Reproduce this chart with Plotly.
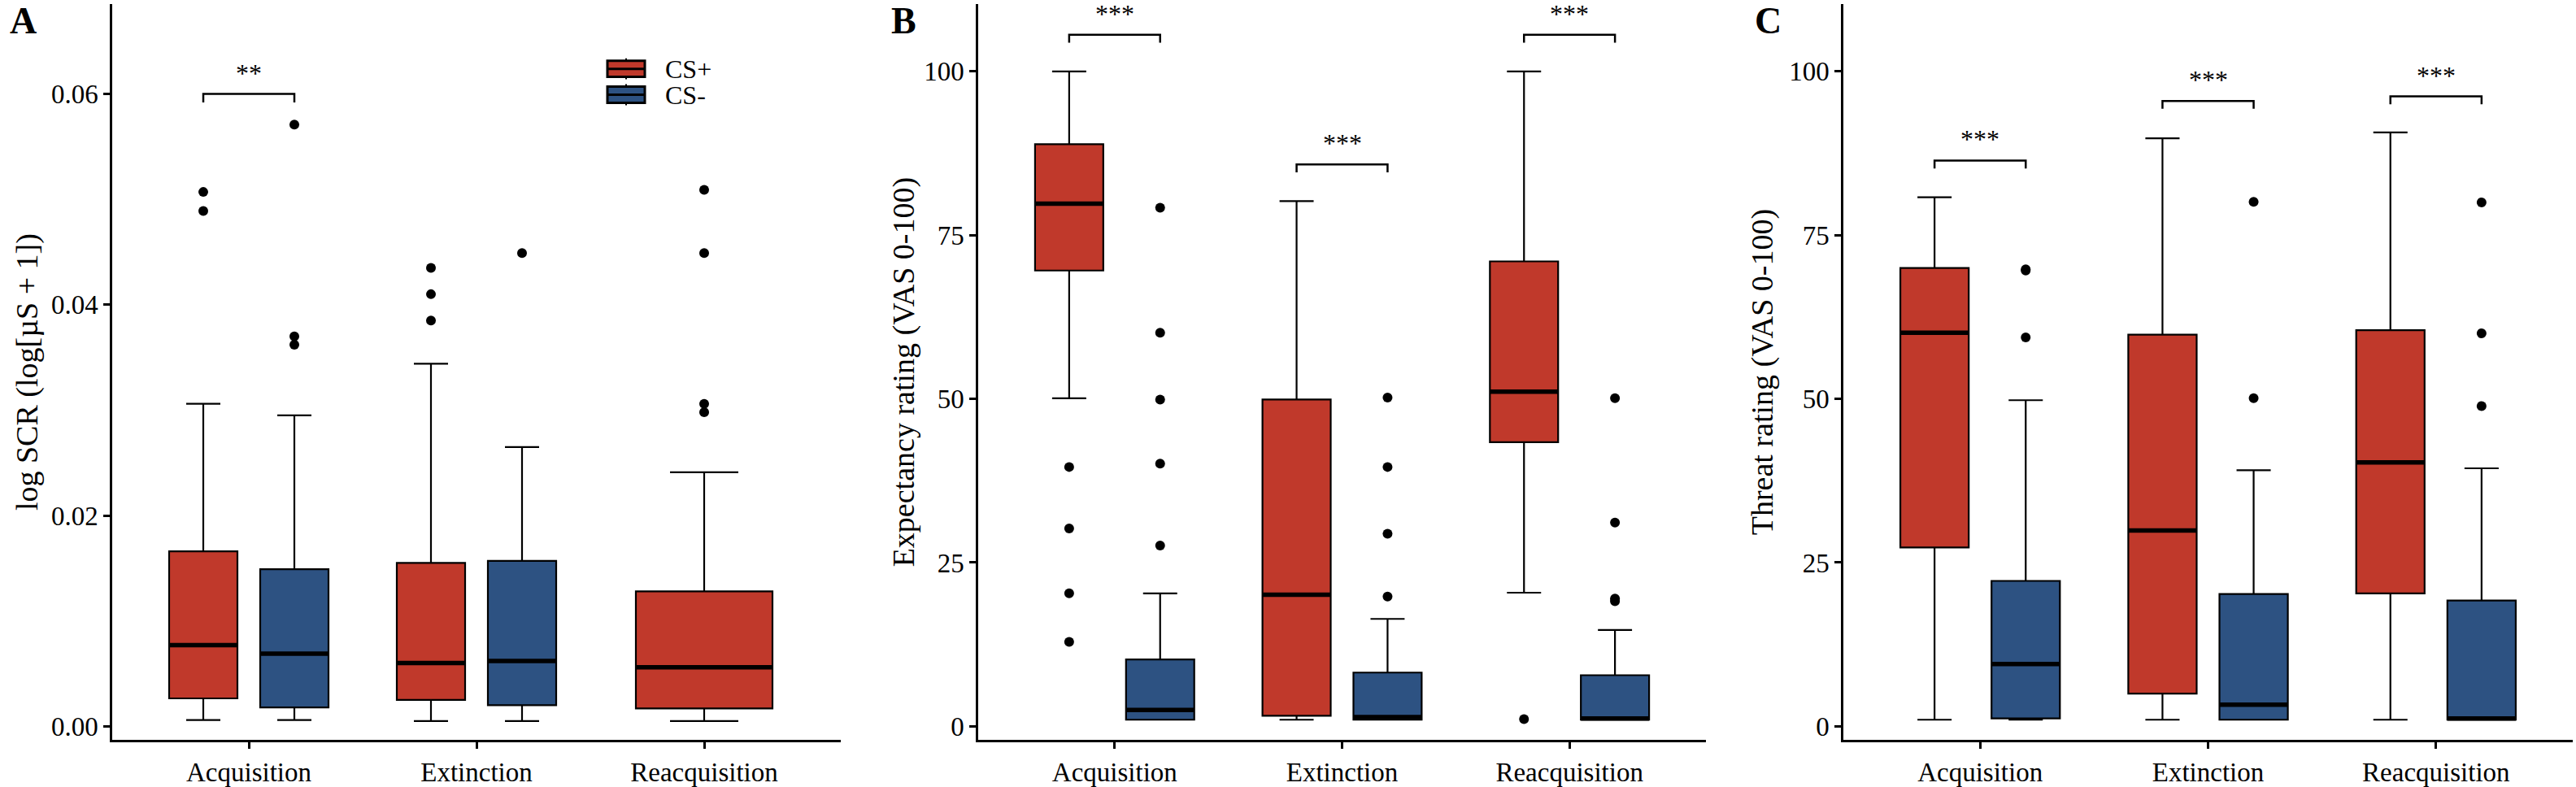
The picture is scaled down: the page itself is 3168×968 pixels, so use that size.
import plotly.graph_objects as go

phases = ["Acquisition", "Extinction", "Reacquisition"]

# box stats per phase: [lower whisker, Q1, median, Q3, upper whisker]
scr_plus = [[0.0006, 0.00265, 0.0077, 0.0166, 0.0306],
            [0.0005, 0.0025, 0.0060, 0.0155, 0.0344],
            [0.0005, 0.0017, 0.0056, 0.0128, 0.0241]]
scr_minus = [[0.0006, 0.0018, 0.0069, 0.0149, 0.0295],
             [0.0005, 0.0020, 0.0062, 0.0157, 0.0265],
             None]
scr_plus_out = [[0.0507, 0.0489], [0.0435, 0.0410, 0.0385], [0.0509, 0.0449, 0.0306, 0.0298]]
scr_minus_out = [[0.0571, 0.0370, 0.0362], [0.0449], []]

exp_plus = [[50.1, 69.6, 79.8, 88.9, 100.0],
            [1.0, 1.6, 20.1, 49.9, 80.2],
            [20.4, 43.4, 51.1, 71.0, 100.0]]
exp_minus = [[1.0, 1.0, 2.5, 10.2, 20.3],
             [1.0, 1.0, 1.4, 8.2, 16.4],
             [1.0, 1.0, 1.2, 7.8, 14.7]]
exp_plus_out = [[39.6, 30.2, 20.3, 12.9], [], [1.1]]
exp_minus_out = [[79.2, 60.1, 49.9, 40.1, 27.6], [50.2, 39.6, 29.4, 19.8], [50.1, 31.1, 19.5, 19.1]]

thr_plus = [[1.0, 27.3, 60.1, 70.0, 80.8],
            [1.0, 5.0, 29.9, 59.8, 89.8],
            [1.0, 20.3, 40.3, 60.5, 90.7]]
thr_minus = [[1.0, 1.2, 9.5, 22.2, 49.8],
             [1.0, 1.0, 3.3, 20.2, 39.1],
             [1.0, 1.0, 1.2, 19.2, 39.4]]
thr_plus_out = [[], [], []]
thr_minus_out = [[69.8, 69.6, 59.4], [80.1, 50.1], [80.0, 60.0, 48.9]]

# significance brackets: phase index, bracket height, label
scr_sig = [(0, 0.0600, "**")]
exp_sig = [(0, 105.6, "***"), (1, 85.8, "***"), (2, 105.6, "***")]
thr_sig = [(0, 86.4, "***"), (1, 95.5, "***"), (2, 96.2, "***")]

groups = ["CS+", "CS-"]

RED = "#C0392B"
BLUE = "#2D5282"
FONT = "Liberation Serif"
W, H = 3168, 968

panels = [
    dict(plus=scr_plus, minus=scr_minus, plus_out=scr_plus_out, minus_out=scr_minus_out,
         sig=scr_sig, tick=0.0008, px=(138, 1034), yrange=[-0.0013, 0.06853],
         ticks=[0, 0.02, 0.04, 0.06], fmt=".2f", title="log SCR (log[µS + 1])",
         standoff=5, label="A", lx=10),
    dict(plus=exp_plus, minus=exp_minus, plus_out=exp_plus_out, minus_out=exp_minus_out,
         sig=exp_sig, tick=1.2, px=(1203, 2098), yrange=[-2.1, 110.3],
         ticks=[0, 25, 50, 75, 100], fmt="d", title="Expectancy rating (VAS 0-100)",
         standoff=0, label="B", lx=1094),
    dict(plus=thr_plus, minus=thr_minus, plus_out=thr_plus_out, minus_out=thr_minus_out,
         sig=thr_sig, tick=1.2, px=(2267, 3164), yrange=[-2.1, 110.3],
         ticks=[0, 25, 50, 75, 100], fmt="d", title="Threat rating (VAS 0-100)",
         standoff=8, label="C", lx=2156),
]

fig = go.Figure()
annotations = []
shapes = []


def add_box(stats, pos, width, color, xa, ya):
    lo, q1, med, q3, hi = stats
    fig.add_trace(go.Box(
        x=[pos], lowerfence=[lo], q1=[q1], median=[med], q3=[q3], upperfence=[hi],
        width=width, fillcolor=color, line=dict(color="black", width=2.2),
        showlegend=False, xaxis=xa, yaxis=ya, hoverinfo="skip"))
    # thick median like ggplot
    fig.add_trace(go.Scatter(
        x=[pos - width / 2, pos + width / 2], y=[med, med], mode="lines",
        line=dict(color="black", width=5.5), showlegend=False,
        xaxis=xa, yaxis=ya, hoverinfo="skip"))


def add_points(vals, pos, xa, ya):
    if not vals:
        return
    fig.add_trace(go.Scatter(
        x=[pos] * len(vals), y=vals, mode="markers",
        marker=dict(color="black", size=12), showlegend=False,
        xaxis=xa, yaxis=ya, hoverinfo="skip"))


for i, p in enumerate(panels):
    n = "" if i == 0 else str(i + 1)
    xa, ya = "x" + n, "y" + n
    for k in range(len(phases)):
        c = k + 1
        if p["minus"][k] is None:
            add_box(p["plus"][k], c, 0.6, RED, xa, ya)
            add_points(p["plus_out"][k], c, xa, ya)
        else:
            add_box(p["plus"][k], c - 0.2, 0.3, RED, xa, ya)
            add_box(p["minus"][k], c + 0.2, 0.3, BLUE, xa, ya)
            add_points(p["plus_out"][k], c - 0.2, xa, ya)
            add_points(p["minus_out"][k], c + 0.2, xa, ya)
    for k, yb, txt in p["sig"]:
        c = k + 1
        fig.add_trace(go.Scatter(
            x=[c - 0.2, c - 0.2, c + 0.2, c + 0.2],
            y=[yb - p["tick"], yb, yb, yb - p["tick"]],
            mode="lines", line=dict(color="black", width=2.5), showlegend=False,
            xaxis=xa, yaxis=ya, hoverinfo="skip"))
        annotations.append(dict(x=c, y=yb, xref=xa, yref=ya, text=txt, showarrow=False,
                                yanchor="bottom", yshift=6,
                                font=dict(family=FONT, size=32, color="black")))
    annotations.append(dict(x=p["lx"] / W, y=1.0, xref="paper", yref="paper", text="<b>" + p["label"] + "</b>",
                            showarrow=False, xanchor="left", yanchor="top", yshift=2,
                            font=dict(family=FONT, size=46, color="black")))

    axis_common = dict(showline=True, linecolor="black", linewidth=2.5, ticks="outside",
                       ticklen=8, tickwidth=2.5, tickcolor="black", showgrid=False, zeroline=False,
                       tickfont=dict(family=FONT, size=33, color="black"))
    fig.layout["xaxis" + n] = dict(
        domain=[p["px"][0] / W, p["px"][1] / W], anchor=ya, range=[0.4, 3.6],
        tickvals=[1, 2, 3], ticktext=phases, **axis_common)
    fig.layout["yaxis" + n] = dict(
        domain=[54 / H, 963 / H], anchor=xa, range=p["yrange"],
        tickvals=p["ticks"], tickformat=p["fmt"],
        title=dict(text=p["title"], standoff=p["standoff"],
                   font=dict(family=FONT, size=38, color="black")),
        **axis_common)

# ggplot-style legend keys (box glyph with median line) drawn in pixels
for j, (g, col) in enumerate(zip(groups, [RED, BLUE])):
    yc = 85 + 32 * j
    x0, x1 = 747, 793
    shapes.append(dict(type="line", xref="paper", yref="paper", x0=(x0 + x1) / 2 / W, x1=(x0 + x1) / 2 / W,
                       y0=1 - (yc - 13) / H, y1=1 - (yc + 13) / H, line=dict(color="black", width=2)))
    shapes.append(dict(type="rect", xref="paper", yref="paper", x0=x0 / W, x1=x1 / W,
                       y0=1 - (yc - 10) / H, y1=1 - (yc + 10) / H, fillcolor=col,
                       line=dict(color="black", width=3)))
    shapes.append(dict(type="line", xref="paper", yref="paper", x0=x0 / W, x1=x1 / W,
                       y0=1 - yc / H, y1=1 - yc / H, line=dict(color="black", width=3)))
    annotations.append(dict(x=816 / W, y=1 - yc / H, xref="paper", yref="paper", text=g,
                            showarrow=False, xanchor="left", yanchor="middle",
                            font=dict(family=FONT, size=32, color="black")))

fig.update_layout(
    width=W, height=H, margin=dict(l=0, r=0, t=0, b=0),
    plot_bgcolor="white", paper_bgcolor="white",
    font=dict(family=FONT, color="black"),
    annotations=annotations, shapes=shapes, showlegend=False,
)

fig.write_html("out.html", config={"displayModeBar": False},
               post_script="document.body.style.margin='0';")
